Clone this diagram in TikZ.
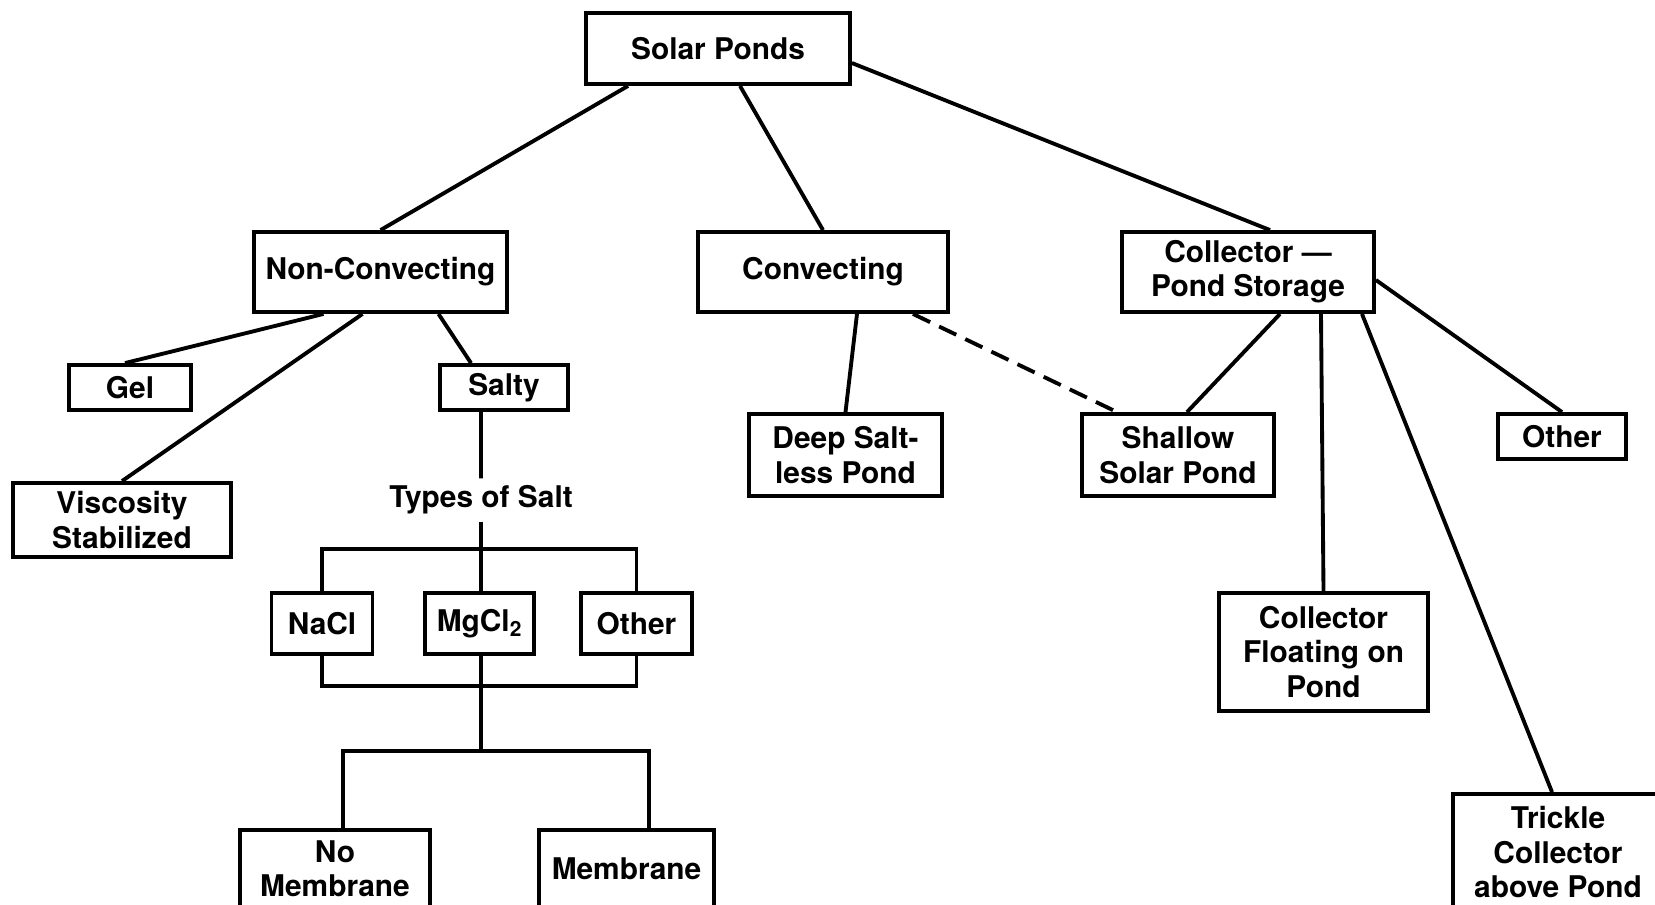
\documentclass[tikz,border=0pt]{standalone}
\usepackage{fontspec}
\setmainfont{TeX Gyre Heros}
\usetikzlibrary{positioning}

\tikzset{
  pondbox/.style={draw,line width=2.2pt,align=center,inner sep=0pt,
    font=\fontsize{17}{19.5}\selectfont\bfseries},
  link/.style={line width=2.2pt},
  maybe/.style={line width=2.2pt,dash pattern=on 0.38cm off 0.2cm}
}

\begin{document}
\begin{tikzpicture}[x=0.02cm,y=-0.02cm]
        \useasboundingbox (0,0) rectangle (1655,904);
        \node[pondbox,minimum width=5.28cm,minimum height=1.42cm] (SolarPonds) at (718,48.5) {Solar Ponds};
        \node[pondbox,minimum width=5.06cm,minimum height=1.6cm] (NonConv) at (380.5,272) {Non-Convecting};
        \node[pondbox,minimum width=5.0cm,minimum height=1.6cm] (Conv) at (823,272) {Convecting};
        \node[pondbox,minimum width=5.04cm,minimum height=1.6cm] (CollStore) at (1248,272) {Collector ---\\Pond Storage};
        \node[pondbox,minimum width=2.44cm,minimum height=0.9cm] (Gel) at (130,387.5) {Gel};
        \node[pondbox,minimum width=2.56cm,minimum height=0.9cm] (Salty) at (504,387.5) {Salty};
        \node[pondbox,minimum width=4.36cm,minimum height=1.48cm] (Visc) at (122,520) {Viscosity\\Stabilized};
        \node[font=\fontsize{17}{19.5}\selectfont\bfseries,inner sep=4pt] (SaltTypes) at (481,500) {Types of Salt};
        \node[pondbox,minimum width=2.02cm,minimum height=1.22cm] (NaCl) at (322,623.5) {NaCl};
        \node[pondbox,minimum width=2.18cm,minimum height=1.22cm] (MgCl) at (479.5,623.5) {MgCl\textsubscript{2}};
        \node[pondbox,minimum width=2.22cm,minimum height=1.22cm] (OtherSalt) at (636.5,623.5) {Other};
        \node[pondbox,minimum width=3.8cm,minimum height=1.56cm] (NoMemb) at (335,869) {No\\Membrane};
        \node[pondbox,minimum width=3.5cm,minimum height=1.56cm] (Memb) at (626.5,869) {Membrane};
        \node[pondbox,minimum width=3.86cm,minimum height=1.64cm] (DeepPond) at (845.5,455) {Deep Salt-\\less Pond};
        \node[pondbox,minimum width=3.84cm,minimum height=1.64cm] (Shallow) at (1178,455) {Shallow\\Solar Pond};
        \node[pondbox,minimum width=2.56cm,minimum height=0.9cm] (OtherColl) at (1562,436.5) {Other};
        \node[pondbox,minimum width=4.18cm,minimum height=2.36cm] (Floating) at (1323.5,652) {Collector\\Floating on\\Pond};
        \node[pondbox,minimum width=4.2cm,minimum height=2.32cm] (Trickle) at (1558,852) {Trickle\\Collector\\above Pond};
        \coordinate (SaltTop) at (481,549);
        \coordinate (SaltBot) at (481,686);
        \coordinate (MembJoin) at (481,751);
        \draw[link] ([xshift=-1.8cm]SolarPonds.south) -- (NonConv.north);
        \draw[link] ([xshift=0.44cm]SolarPonds.south) -- (Conv.north);
        \draw[link] ([yshift=-0.29cm]SolarPonds.east) -- ([xshift=0.44cm]CollStore.north);
        \draw[link] ([xshift=-1.14cm]NonConv.south) -- ([xshift=-0.1cm]Gel.north);
        \draw[link] ([xshift=-0.36cm]NonConv.south) -- (Visc.north);
        \draw[link] ([xshift=1.16cm]NonConv.south) -- ([xshift=-0.66cm]Salty.north);
        \draw[link] ([xshift=-0.46cm]Salty.south) -- (SaltTypes.north);
        \draw[link] (SaltTypes.south) -- (SaltTop |- MgCl.north);
        \draw[link] (NaCl.north) |- (SaltTop) -| (OtherSalt.north);
        \draw[link] (NaCl.south) |- (SaltBot) -| (OtherSalt.south);
        \draw[link] (SaltBot |- MgCl.south) -- (MembJoin);
        \draw[link] ([xshift=0.16cm]NoMemb.north) |- (MembJoin) -| ([xshift=0.45cm]Memb.north);
        \draw[link] ([xshift=0.68cm]Conv.south) -- (DeepPond.north);
        \draw[maybe] ([xshift=1.8cm]Conv.south) -- ([xshift=-1.22cm]Shallow.north);
        \draw[link] ([xshift=0.64cm]CollStore.south) -- ([xshift=0.18cm]Shallow.north);
        \draw[link] ([xshift=1.46cm]CollStore.south) -- (Floating.north);
        \draw[link] ([xshift=2.28cm]CollStore.south) -- ([xshift=-0.12cm]Trickle.north);
        \draw[link] ([yshift=-0.16cm]CollStore.east) -- (OtherColl.north);
\end{tikzpicture}
\end{document}
